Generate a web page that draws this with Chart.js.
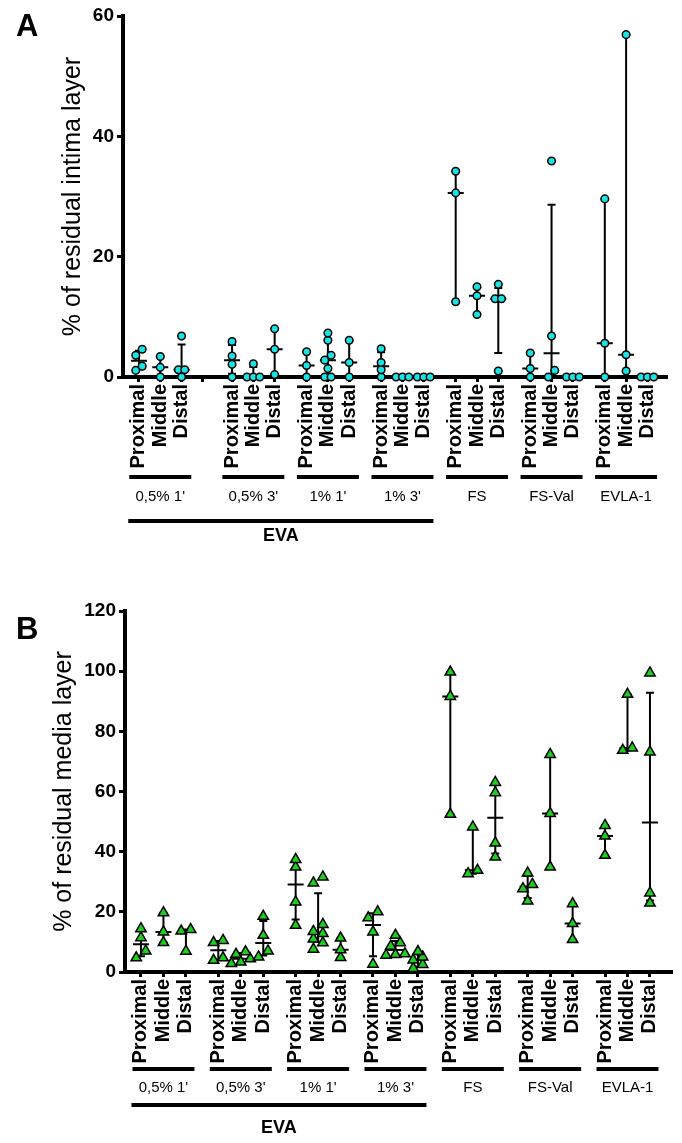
<!DOCTYPE html>
<html>
<head>
<meta charset="utf-8">
<title>Residual intima and media layer</title>
<script src="https://cdn.jsdelivr.net/npm/chart.js@4/dist/chart.umd.min.js"></script>
<style>
    body { margin: 0; background: #fff; }
    #page { position: relative; width: 682px; height: 1143px; }
    .panel { position: absolute; left: 0; }
</style>
</head>
<body>
<div id="page">
    <div class="panel" style="top:0"><canvas id="chartA" width="682" height="590"></canvas></div>
    <div class="panel" style="top:590px"><canvas id="chartB" width="682" height="553"></canvas></div>
</div>
<script>
// Categories
const positions = ['Proximal', 'Middle', 'Distal'];
const groupLabels = ["0,5% 1'", "0,5% 3'", "1% 1'", "1% 3'", 'FS', 'FS-Val', 'EVLA-1'];
const evaLabel = 'EVA';
const evaGroupCount = 4; // first four groups are EVA

// % of residual intima layer - one list per column (group x position)
const intimaValues = [
    [4.6, 3.6, 1.8, 1.1], [3.4, 1.6, 0], [6.8, 1.2, 1.2, 0],
    [5.9, 3.5, 2.1, 0], [2.2, 0, 0, 0], [8.0, 4.6, 0.4],
    [4.2, 1.9, 0], [7.3, 6.1, 3.6, 2.8, 1.4, 0, 0], [6.1, 2.4, 0],
    [4.7, 2.4, 1.2, 0], [0, 0, 0], [0, 0, 0],
    [34.2, 30.6, 12.5], [15.0, 13.5, 10.4], [15.4, 13.0, 13.0, 1.0],
    [4.0, 1.4, 0], [35.9, 6.8, 1.1, 0], [0, 0, 0],
    [29.6, 5.6, 0], [56.9, 3.7, 1.0], [0, 0, 0]
];

// % of residual media layer
const mediaValues = [
    [14.4, 11.4, 7.0, 4.7], [19.7, 13.3, 9.8], [14.1, 13.6, 6.9],
    [10.5, 9.8, 4.7, 3.9], [6.7, 5.9, 4.4, 3.3, 2.8], [18.5, 12.2, 7.0, 5.0],
    [37.4, 34.9, 23.3, 15.5], [31.6, 29.6, 15.8, 13.5, 12.8, 11.0, 9.7, 7.6], [11.3, 7.4, 4.8],
    [20.0, 18.0, 13.3, 2.6], [12.2, 9.7, 8.6, 6.1, 5.8, 5.6], [6.8, 5.0, 4.0, 2.5, 1.2],
    [99.7, 91.6, 52.4], [48.2, 33.8, 32.7], [63.0, 59.6, 42.9, 38.2],
    [32.9, 29.1, 27.7, 23.6], [72.3, 52.7, 34.9], [22.7, 16.1, 10.8],
    [48.7, 45.2, 38.8], [92.3, 74.5, 73.7], [99.4, 73.1, 26.3, 22.9]
];

// Tick labels
const intimaTicks = [0, 20, 40, 60];
const mediaTicks = [0, 20, 40, 60, 80, 100, 120];

const FONT = "'Liberation Sans', Arial, sans-serif";

// x slot of every column: groups spaced by stride, optional extra gap after first group
function columnSlots(stride, extraGap) {
    const slots = [];
    groupLabels.forEach((g, gi) => {
        positions.forEach((p, pi) => {
            slots.push(gi * stride + pi + (gi > 0 ? extraGap : 0));
        });
    });
    return slots;
}

// Put points with close values side by side (like a column scatter)
function spreadColumn(values, slot, yThreshold, xStep) {
    const sorted = values.slice().sort((a, b) => a - b);
    const pts = [];
    let i = 0;
    while (i < sorted.length) {
        let j = i;
        while (j + 1 < sorted.length && sorted[j + 1] - sorted[i] < yThreshold) j++;
        const n = j - i + 1;
        for (let k = 0; k < n; k++) {
            pts.push({ x: slot + (k - (n - 1) / 2) * xStep, y: sorted[i + k] });
        }
        i = j + 1;
    }
    return pts;
}

// Quartiles the GraphPad way: rank p*(n+1)
function quantile(sorted, p) {
    const n = sorted.length;
    const r = p * (n + 1);
    if (r <= 1) return sorted[0];
    if (r >= n) return sorted[n - 1];
    const lo = Math.floor(r);
    return sorted[lo - 1] + (r - lo) * (sorted[lo] - sorted[lo - 1]);
}

function makePanel(id, p) {
    const slots = columnSlots(p.stride, p.extraGap);
    const points = [];
    p.values.forEach((vals, i) => {
        points.push(...spreadColumn(vals, slots[i], p.yThreshold, p.xStep));
    });
    const tickSlots = slots.concat(p.spacers).sort((a, b) => a - b);
    const labelAt = new Map();
    slots.forEach((s, i) => labelAt.set(s, positions[i % positions.length]));

    // median + interquartile range under the points, group annotations on top
    const extras = {
        id: 'panelExtras_' + id,
        beforeDatasetsDraw(chart) {
            const { ctx, scales: { x, y } } = chart;
            ctx.save();
            ctx.strokeStyle = '#000';
            ctx.lineWidth = 2;
            p.values.forEach((vals, i) => {
                const s = vals.slice().sort((a, b) => a - b);
                const q1 = y.getPixelForValue(quantile(s, 0.25));
                const q3 = y.getPixelForValue(quantile(s, 0.75));
                const med = y.getPixelForValue(quantile(s, 0.5));
                const cx = x.getPixelForValue(slots[i]);
                ctx.beginPath();
                ctx.moveTo(cx, q1); ctx.lineTo(cx, q3);
                ctx.moveTo(cx - 4, q1); ctx.lineTo(cx + 4, q1);
                ctx.moveTo(cx - 4, q3); ctx.lineTo(cx + 4, q3);
                ctx.moveTo(cx - 8, med); ctx.lineTo(cx + 8, med);
                ctx.stroke();
            });
            ctx.restore();
        },
        afterDraw(chart) {
            const { ctx, scales: { x }, chartArea } = chart;
            const base = chartArea.bottom;
            ctx.save();
            ctx.fillStyle = '#000';
            ctx.strokeStyle = '#000';
            ctx.lineWidth = 4;
            let evaLeft = null, evaRight = null;
            groupLabels.forEach((g, gi) => {
                const mid = x.getPixelForValue(slots[gi * 3 + 1]);
                ctx.beginPath();
                ctx.moveTo(mid - 31, base + p.groupBarY);
                ctx.lineTo(mid + 31, base + p.groupBarY);
                ctx.stroke();
                ctx.font = '15px ' + FONT;
                ctx.textAlign = 'center';
                ctx.textBaseline = 'middle';
                ctx.fillText(g, mid, base + p.groupLabelY);
                if (gi === 0) evaLeft = mid - 32;
                if (gi === evaGroupCount - 1) evaRight = mid + 31;
            });
            ctx.beginPath();
            ctx.moveTo(evaLeft, base + p.evaBarY);
            ctx.lineTo(evaRight, base + p.evaBarY);
            ctx.stroke();
            ctx.font = 'bold 18px ' + FONT;
            ctx.fillText(evaLabel, (evaLeft + evaRight) / 2, base + p.evaLabelY);
            // panel letter
            ctx.font = 'bold 31px ' + FONT;
            ctx.textAlign = 'left';
            ctx.textBaseline = 'alphabetic';
            ctx.fillText(p.letter, 16, p.letterY);
            ctx.restore();
        }
    };

    return new Chart(document.getElementById(id), {
        type: 'scatter',
        data: {
            datasets: [{
                data: points,
                pointStyle: p.pointStyle,
                pointRadius: p.radius,
                pointBackgroundColor: p.fill,
                pointBorderColor: '#000',
                pointBorderWidth: 1.5,
                showLine: false,
                clip: false
            }]
        },
        options: {
            responsive: false,
            animation: false,
            layout: { padding: p.padding },
            plugins: {
                legend: { display: false },
                tooltip: { enabled: false }
            },
            scales: {
                x: {
                    type: 'linear',
                    min: p.xMin,
                    max: p.xMax,
                    afterBuildTicks: s => { s.ticks = tickSlots.map(v => ({ value: v })); },
                    afterFit: s => { s.height = p.xAxisHeight; },
                    ticks: {
                        autoSkip: false,
                        minRotation: 90,
                        maxRotation: 90,
                        padding: 2,
                        color: '#000',
                        font: { family: FONT, size: 20, weight: 'bold' },
                        callback: v => labelAt.get(v) || ''
                    },
                    grid: { drawOnChartArea: false, drawTicks: true, tickLength: 5, tickWidth: 3, color: '#000' },
                    border: { color: '#000', width: 4 }
                },
                y: {
                    min: 0,
                    max: p.yMax,
                    afterBuildTicks: s => { s.ticks = p.yTicks.map(v => ({ value: v })); },
                    afterFit: s => { s.width = p.yAxisWidth; },
                    ticks: {
                        padding: 3,
                        color: '#000',
                        font: { family: FONT, size: 19, weight: 'bold' }
                    },
                    title: {
                        display: true,
                        text: p.title,
                        color: '#000',
                        font: { family: FONT, size: 25 },
                        padding: { top: p.titlePad, bottom: 0 }
                    },
                    grid: { drawOnChartArea: false, drawTicks: true, tickLength: 6, tickWidth: 3, color: '#000' },
                    border: { color: '#000', width: 4 }
                }
            }
        },
        plugins: [extras]
    });
}

makePanel('chartA', {
    letter: 'A', letterY: 36,
    title: '% of residual intima layer',
    values: intimaValues,
    yMax: 60, yTicks: intimaTicks,
    stride: 3.5, extraGap: 0.87, spacers: [3],
    xMin: -0.75, xMax: 24.79,
    yThreshold: 1.2, xStep: 0.3,
    pointStyle: 'circle', radius: 3.8, fill: '#19e3e3',
    padding: { left: 0, right: 15, top: 16, bottom: 118 },
    yAxisWidth: 123, xAxisHeight: 95, titlePad: 58,
    groupBarY: 100, groupLabelY: 120, evaBarY: 144, evaLabelY: 159
});

makePanel('chartB', {
    letter: 'B', letterY: 49,
    title: '% of residual media layer',
    values: mediaValues,
    yMax: 120, yTicks: mediaTicks,
    stride: 3.44, extraGap: 0, spacers: [],
    xMin: -0.71, xMax: 23.62,
    yThreshold: 2.5, xStep: 0.42,
    pointStyle: 'triangle', radius: 6, fill: '#1ccf1c',
    padding: { left: 0, right: 10, top: 21, bottom: 76 },
    yAxisWidth: 125, xAxisHeight: 95, titlePad: 49,
    groupBarY: 97, groupLabelY: 116, evaBarY: 133, evaLabelY: 156
});
</script>
</body>
</html>
